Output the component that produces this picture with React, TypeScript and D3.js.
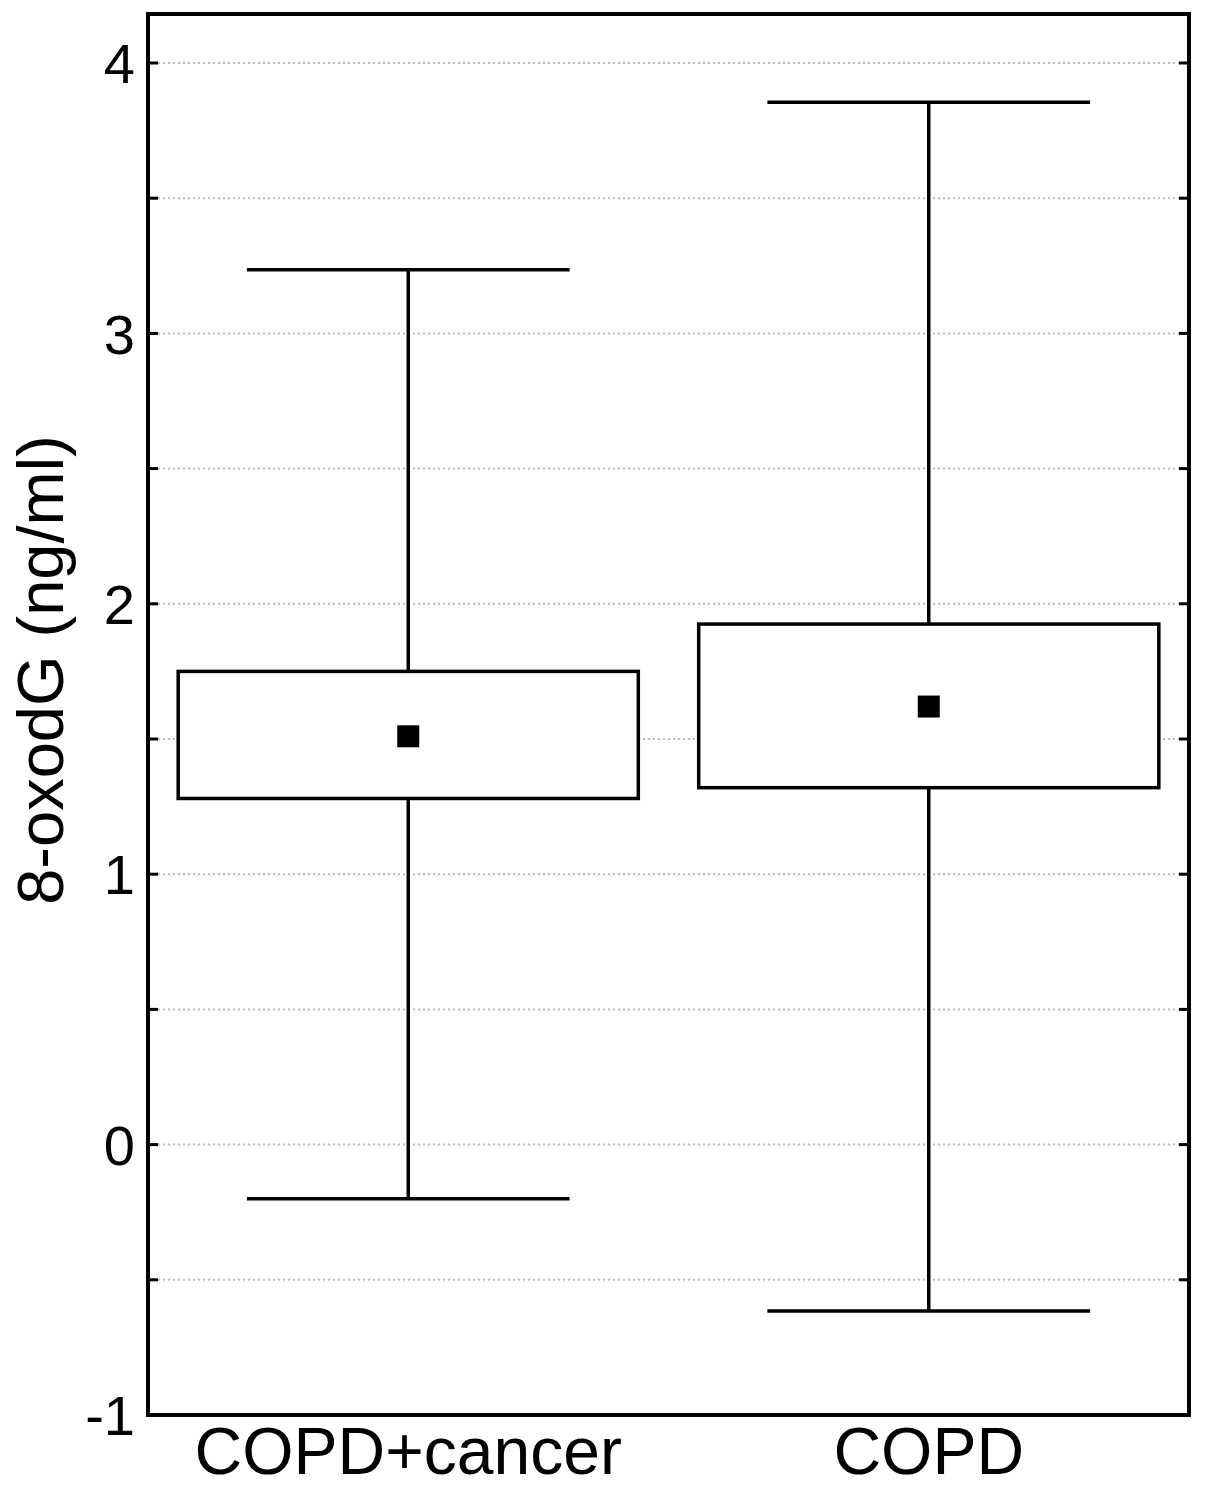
import * as d3 from "d3";

const groups = ["COPD+cancer", "COPD"];
const boxLow = [1.28, 1.32];
const boxHigh = [1.75, 1.925];
const means = [1.51, 1.62];
const whiskerLow = [-0.2, -0.615];
const whiskerHigh = [3.235, 3.855];
const yTicks = [-1, 0, 1, 2, 3, 4];
const gridValues = [-0.5, 0, 0.5, 1, 1.5, 2, 2.5, 3, 3.5, 4];

const W = 1205;
const H = 1491;
const left = 148;
const right = 1189;
const top = 14;
const bottom = 1415;

export default function App() {
  const y = d3.scaleLinear().domain([-1, 4]).range([bottom, 63]);
  const x = d3.scalePoint().domain(groups).range([left, right]).padding(0.5);
  const step = x.step();
  const bw = step * 0.884;
  const capW = step * 0.62;
  const font = "'Liberation Sans', Arial, sans-serif";

  return (
    <svg width={W} height={H} style={{ display: "block", margin: -8 }}>
      <rect width={W} height={H} fill="#fff" />
      {gridValues.map((v) => (
        <line key={v} x1={left} x2={right} y1={y(v)} y2={y(v)}
          stroke="#bbb" strokeWidth={2} strokeDasharray="2,3" />
      ))}
      {gridValues.map((v) => (
        <g key={"t" + v} stroke="#000" strokeWidth={3}>
          <line x1={left} x2={left + 10} y1={y(v)} y2={y(v)} />
          <line x1={right - 10} x2={right} y1={y(v)} y2={y(v)} />
        </g>
      ))}
      {groups.map((g, i) => {
        const cx = x(g)!;
        return (
          <g key={g} stroke="#000" strokeWidth={3.5}>
            <line x1={cx} x2={cx} y1={y(whiskerHigh[i])} y2={y(whiskerLow[i])} />
            <line x1={cx - capW / 2} x2={cx + capW / 2} y1={y(whiskerHigh[i])} y2={y(whiskerHigh[i])} />
            <line x1={cx - capW / 2} x2={cx + capW / 2} y1={y(whiskerLow[i])} y2={y(whiskerLow[i])} />
            <rect x={cx - bw / 2} width={bw} y={y(boxHigh[i])} height={y(boxLow[i]) - y(boxHigh[i])} fill="#fff" />
            <rect x={cx - 11} y={y(means[i]) - 11} width={22} height={22} fill="#000" stroke="none" />
          </g>
        );
      })}
      <rect x={left} y={top} width={right - left} height={bottom - top} fill="none" stroke="#000" strokeWidth={4} />
      {yTicks.map((v) => (
        <text key={v} x={135} y={y(v)} dy="0.36em" textAnchor="end" fontFamily={font} fontSize={56}>{v}</text>
      ))}
      {groups.map((g) => (
        <text key={g} x={x(g)!} y={1474} textAnchor="middle" fontFamily={font} fontSize={66}>{g}</text>
      ))}
      <text transform="translate(63,670) rotate(-90)" textAnchor="middle" fontFamily={font} fontSize={65}>8-oxodG (ng/ml)</text>
    </svg>
  );
}
